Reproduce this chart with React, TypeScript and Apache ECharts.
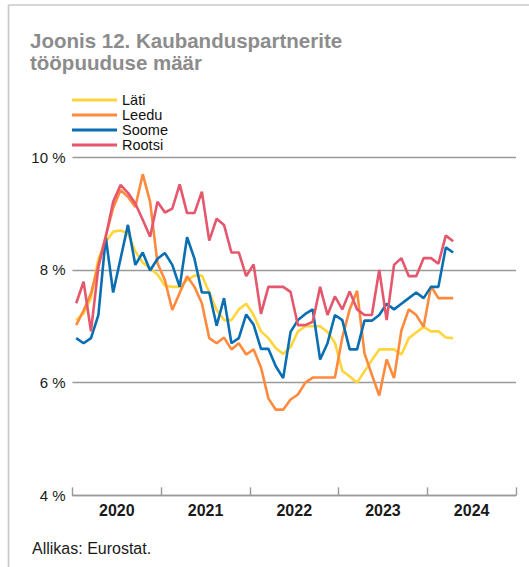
import React, { useEffect, useRef } from "react";
import * as echarts from "echarts";

const years = ["2020", "2021", "2022", "2023", "2024"];
const monthNames = ["01", "02", "03", "04", "05", "06", "07", "08", "09", "10", "11", "12"];
const months: string[] = [];
years.forEach((y) => monthNames.forEach((m) => months.push(`${y}-${m}`)));

const seriesNames = ["Läti", "Leedu", "Soome", "Rootsi"];
const colors = ["#ffd53b", "#ff8a3d", "#0a6fb2", "#e4576c"];

const laeti = [7.11, 7.23, 7.5, 8.2, 8.5, 8.68, 8.7, 8.65, 8.33, 8.13, 8.03, 7.92, 7.72, 7.7, 7.7, 7.82, 7.9, 7.9, 7.6, 7.29, 7.11, 7.11, 7.3, 7.4, 7.2, 6.91, 6.79, 6.61, 6.51, 6.63, 6.91, 7.0, 7.0, 7.0, 6.9, 6.71, 6.21, 6.11, 6.0, 6.2, 6.4, 6.59, 6.59, 6.59, 6.5, 6.79, 6.89, 6.99, 6.91, 6.91, 6.8, 6.79];
const leedu = [7.02, 7.28, 7.58, 8.1, 8.6, 9.1, 9.42, 9.3, 9.12, 9.7, 9.21, 8.12, 7.82, 7.29, 7.59, 7.89, 7.7, 7.41, 6.79, 6.7, 6.8, 6.59, 6.7, 6.5, 6.59, 6.27, 5.72, 5.52, 5.52, 5.7, 5.79, 6.0, 6.09, 6.09, 6.09, 6.09, 6.8, 7.3, 7.63, 6.52, 6.14, 5.77, 6.41, 6.08, 6.93, 7.3, 7.2, 6.99, 7.71, 7.5, 7.5, 7.5];
const soome = [6.79, 6.7, 6.79, 7.2, 8.58, 7.6, 8.2, 8.8, 8.09, 8.31, 7.99, 8.2, 8.3, 8.09, 7.7, 8.58, 8.2, 7.6, 7.6, 7.01, 7.5, 6.7, 6.79, 7.21, 7.03, 6.6, 6.6, 6.29, 6.08, 6.9, 7.11, 7.22, 7.3, 6.41, 6.7, 7.2, 7.11, 6.59, 6.59, 7.1, 7.1, 7.2, 7.4, 7.3, 7.4, 7.5, 7.6, 7.5, 7.7, 7.7, 8.4, 8.31];
const rootsi = [7.41, 7.79, 6.91, 8.05, 8.59, 9.21, 9.51, 9.37, 9.18, 8.89, 8.59, 9.21, 9.02, 9.09, 9.52, 9.01, 9.01, 9.39, 8.52, 8.91, 8.8, 8.31, 8.31, 7.89, 8.1, 7.22, 7.7, 7.7, 7.7, 7.61, 7.02, 7.02, 7.08, 7.7, 7.2, 7.53, 7.3, 7.62, 7.3, 7.2, 7.2, 8.0, 7.11, 8.09, 8.21, 7.89, 7.89, 8.21, 8.21, 8.11, 8.61, 8.51];
const seriesValues = [laeti, leedu, soome, rootsi];

const titleText = "Joonis 12. Kaubanduspartnerite\ntööpuuduse määr";
const sourceText = "Allikas: Eurostat.";

const FONT = "'Liberation Sans', Arial, Helvetica, sans-serif";

export default function App() {
  const ref = useRef<HTMLDivElement>(null);
  useEffect(() => {
    if (!ref.current) return;
    const chart = echarts.init(ref.current, null, { renderer: "svg" });
    chart.setOption({
      animation: false,
      backgroundColor: "#ffffff",
      textStyle: { fontFamily: FONT },
      title: {
        text: titleText,
        left: 30,
        top: 29,
        padding: 0,
        textStyle: { fontSize: 20.5, fontWeight: "bold", color: "#8c8c8c", lineHeight: 22.5, fontFamily: FONT },
      },
      legend: {
        orient: "vertical",
        left: 72,
        top: 92.5,
        padding: 0,
        itemGap: 0,
        itemWidth: 45,
        itemHeight: 3,
        icon: "rect",
        data: seriesNames,
        textStyle: { fontSize: 14.5, lineHeight: 14.5, color: "#111", fontFamily: FONT },
      },
      grid: { left: 72.5, right: 13, top: 157.3, bottom: 71.7, containLabel: false },
      xAxis: [
        { type: "category", data: months, boundaryGap: true, show: false, position: "bottom" },
        {
          type: "category",
          data: years,
          boundaryGap: true,
          position: "bottom",
          axisLine: { show: true, lineStyle: { color: "#9a9a9a", width: 1.4 } },
          axisTick: { show: true, inside: true, length: 8, lineStyle: { color: "#9a9a9a", width: 1.4 } },
          axisLabel: { fontSize: 16, fontWeight: "bold", color: "#1a1a1a", margin: 7, fontFamily: FONT },
          splitLine: { show: false },
        },
      ],
      yAxis: {
        type: "value",
        min: 4,
        max: 10,
        interval: 2,
        axisLine: { show: false },
        axisTick: { show: false },
        axisLabel: { formatter: (v: number) => `${v} %`, fontSize: 15, color: "#1a1a1a", margin: 7, fontFamily: FONT },
        splitLine: { show: true, lineStyle: { color: "#9a9a9a", width: 1.4 } },
      },
      series: seriesNames.map((name, k) => ({
        name,
        type: "line",
        xAxisIndex: 0,
        data: seriesValues[k],
        symbol: "none",
        color: colors[k],
        lineStyle: { color: colors[k], width: 2.6 },
        itemStyle: { color: colors[k] },
      })),
      graphic: [
        {
          type: "line",
          shape: { x1: 8.5, y1: 5, x2: 540, y2: 5 },
          style: { stroke: "#c8c8c8", lineWidth: 1.6 },
          silent: true,
        },
        {
          type: "line",
          shape: { x1: 8.5, y1: 5, x2: 8.5, y2: 580 },
          style: { stroke: "#c8c8c8", lineWidth: 1.6 },
          silent: true,
        },
        {
          type: "text",
          left: 32,
          top: 540,
          style: { text: sourceText, fontSize: 16, fill: "#1a1a1a", fontFamily: FONT },
        },
      ],
    });
    return () => chart.dispose();
  }, []);
  return (
    <div
      ref={ref}
      style={{ position: "fixed", left: 0, top: 0, width: 529, height: 567 }}
    />
  );
}
